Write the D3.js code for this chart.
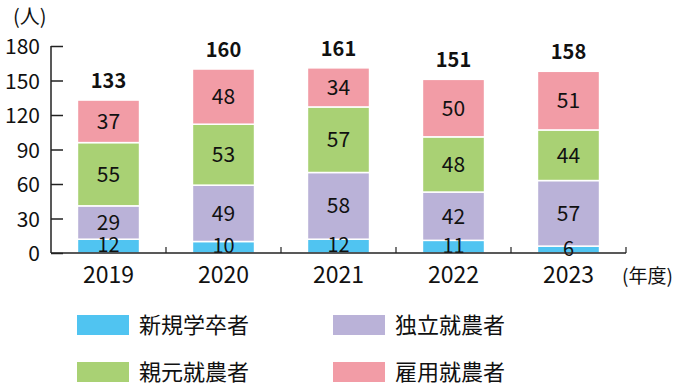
<!DOCTYPE html>
<html><head><meta charset="utf-8">
<script src="https://cdn.jsdelivr.net/npm/d3@7"></script>
<style>body{margin:0;background:#fff}svg{display:block}text{font-family:"Noto Sans CJK JP","Noto Sans",sans-serif}</style>
</head><body>
<script>
const years = ["2019","2020","2021","2022","2023"];
const seriesNames = ["新規学卒者","独立就農者","親元就農者","雇用就農者"];
const shinki = [12,10,12,11,6];
const dokuritsu = [29,49,58,42,57];
const oyamoto = [55,53,57,48,44];
const koyou = [37,48,34,50,51];
const totals = [133,160,161,151,158];
const yTicks = [0,30,60,90,120,150,180];
const colors = ["#50c4f1","#bab2d8","#a9d174","#f29ca6"];

const W=688,H=391;
const svg=d3.select("body").append("svg").attr("width",W).attr("height",H);
const x=d3.scaleBand().domain(years).range([51,626]).paddingInner(0.46).paddingOuter(0.23);
const xb=d3.scaleBand().domain(years).range([51,626]);
const y=d3.scaleLinear().domain([0,180]).range([253,46]);

const rows=years.map((yr,i)=>({year:yr,"新規学卒者":shinki[i],"独立就農者":dokuritsu[i],"親元就農者":oyamoto[i],"雇用就農者":koyou[i]}));
const stack=d3.stack().keys(seriesNames)(rows);

const g=svg.append("g");
stack.forEach((s,si)=>{
  g.selectAll(null).data(s).enter().append("rect")
   .attr("x",d=>x(d.data.year)).attr("width",x.bandwidth())
   .attr("y",d=>y(d[1])).attr("height",d=>y(d[0])-y(d[1]))
   .attr("fill",colors[si]).attr("stroke","#fff").attr("stroke-width",1.5);
});
stack.forEach((s,si)=>{
  g.selectAll(null).data(s).enter().append("text")
   .attr("x",d=>x(d.data.year)+x.bandwidth()/2)
   .attr("y",d=>(y(d[0])+y(d[1]))/2 + (si===0?6:7.5))
   .attr("text-anchor","middle").attr("font-size",si===0?20:21).attr("fill","#111")
   .text(d=>d[1]-d[0]);
});
// totals
g.selectAll(null).data(years).enter().append("text")
 .attr("x",d=>x(d)+x.bandwidth()/2).attr("y",(d,i)=>y(totals[i])-12)
 .attr("text-anchor","middle").attr("font-size",20).attr("font-weight","bold").attr("fill","#111")
 .text((d,i)=>totals[i]);

// y axis
const ya=svg.append("g").attr("transform","translate(51,0)")
 .call(d3.axisLeft(y).tickValues(yTicks).tickSize(-12));
ya.select(".domain").attr("stroke","#222").attr("stroke-width",1.5).attr("d","M0,46V253");
ya.selectAll(".tick line").attr("stroke","#222").attr("stroke-width",1.5);
ya.selectAll(".tick text").attr("font-size",21).attr("fill","#111").attr("dy","0.36em").attr("x",-11);

// x axis
const xa=svg.append("g").attr("transform","translate(0,253)");
xa.append("line").attr("x1",51).attr("x2",626).attr("stroke","#222").attr("stroke-width",1.5);
const bounds=years.map(d=>xb(d)).concat([626]).slice(1);
xa.selectAll(null).data(bounds).enter().append("line")
 .attr("x1",d=>d).attr("x2",d=>d).attr("y1",0).attr("y2",-6).attr("stroke","#222").attr("stroke-width",1.2);
xa.selectAll(null).data(years).enter().append("text")
 .attr("x",d=>xb(d)+xb.bandwidth()/2).attr("y",30)
 .attr("text-anchor","middle").attr("font-size",23).attr("fill","#111").text(d=>d);
svg.append("text").attr("x",622).attr("y",283).attr("font-size",19).attr("fill","#111").text("(年度)");
svg.append("text").attr("x",13).attr("y",24).attr("font-size",20).attr("fill","#111").text("(人)");

// legend
const legPos=[[77,315],[333,315],[77,362],[333,362]];
seriesNames.forEach((name,si)=>{
  const [lx,ly]=legPos[si];
  svg.append("rect").attr("x",lx).attr("y",ly).attr("width",52).attr("height",20).attr("fill",colors[si]);
  svg.append("text").attr("x",lx+62).attr("y",ly+18).attr("font-size",22).attr("fill","#111").text(name);
});
</script>
</body></html>
